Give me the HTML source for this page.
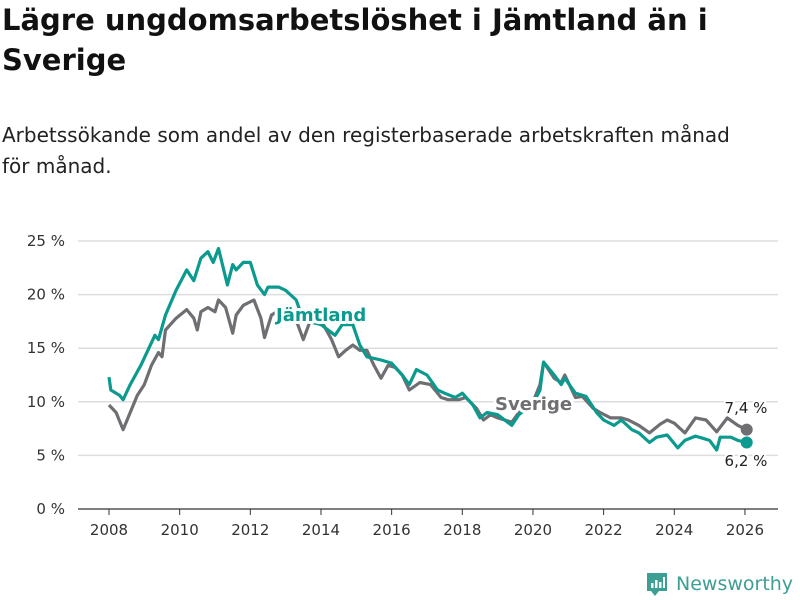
<!DOCTYPE html>
<html><head><meta charset="utf-8"><style>
body{margin:0;background:#fff;font-family:"DejaVu Sans","Liberation Sans",sans-serif;}
#wrap{position:relative;width:800px;height:600px;overflow:hidden}
h1{position:absolute;left:2px;top:0;margin:0;font-size:29px;line-height:40px;font-weight:bold;color:#111;width:790px}
p{position:absolute;left:2px;top:120px;margin:0;font-size:20px;line-height:31px;color:#222;width:760px}
</style></head><body><div id="wrap">
<h1>Lägre ungdomsarbetslöshet i Jämtland än i Sverige</h1>
<p>Arbetssökande som andel av den registerbaserade arbetskraften månad för månad.</p>
<svg id="chart" width="800" height="600" style="position:absolute;left:0;top:0"></svg>
</div>
<script>
const yTicks=[0,5,10,15,20,25];
const xTicks=[2008,2010,2012,2014,2016,2018,2020,2022,2024,2026];
const jamtT=[2008.0,2008.05,2008.3,2008.4,2008.6,2008.9,2009.3,2009.4,2009.6,2009.9,2010.2,2010.4,2010.6,2010.8,2010.95,2011.1,2011.35,2011.5,2011.6,2011.8,2012.0,2012.2,2012.4,2012.5,2012.8,2013.0,2013.3,2013.5,2014.0,2014.4,2014.6,2014.9,2015.1,2015.3,2015.7,2016.0,2016.3,2016.5,2016.7,2017.0,2017.3,2017.5,2017.8,2018.0,2018.3,2018.5,2018.7,2019.0,2019.4,2019.6,2020.0,2020.2,2020.3,2020.6,2020.8,2020.9,2021.2,2021.5,2021.8,2022.0,2022.3,2022.5,2022.8,2023.0,2023.3,2023.5,2023.8,2024.1,2024.3,2024.6,2024.8,2025.0,2025.2,2025.3,2025.6,2025.8,2026.05];
const jamtV=[12.3,11.1,10.6,10.2,11.6,13.4,16.2,15.8,18.1,20.4,22.3,21.3,23.4,24.0,23.0,24.3,20.9,22.8,22.3,23.0,23.0,20.9,20.0,20.7,20.7,20.4,19.5,17.6,17.2,16.2,17.2,17.2,15.3,14.2,13.9,13.6,12.5,11.6,13.0,12.5,11.1,10.8,10.4,10.8,9.7,8.5,9.0,8.8,7.8,8.8,9.8,11.1,13.7,12.5,11.6,12.2,10.8,10.5,9.0,8.3,7.8,8.3,7.4,7.1,6.2,6.7,6.9,5.7,6.4,6.8,6.6,6.4,5.5,6.7,6.7,6.4,6.2];
const sveT=[2008.0,2008.2,2008.4,2008.6,2008.8,2009.0,2009.2,2009.4,2009.5,2009.6,2009.9,2010.2,2010.4,2010.5,2010.6,2010.8,2011.0,2011.1,2011.3,2011.5,2011.6,2011.8,2012.1,2012.3,2012.4,2012.6,2012.8,2013.1,2013.3,2013.5,2013.7,2014.0,2014.3,2014.5,2014.7,2014.9,2015.1,2015.3,2015.5,2015.7,2015.9,2016.1,2016.3,2016.5,2016.8,2017.1,2017.4,2017.6,2017.9,2018.1,2018.4,2018.6,2018.8,2019.0,2019.4,2019.6,2020.0,2020.2,2020.3,2020.6,2020.8,2020.9,2021.2,2021.4,2021.7,2021.9,2022.2,2022.5,2022.7,2023.0,2023.3,2023.6,2023.8,2024.0,2024.3,2024.6,2024.9,2025.2,2025.5,2025.8,2026.05];
const sveV=[9.7,9.0,7.4,9.0,10.6,11.6,13.4,14.6,14.2,16.7,17.8,18.6,17.8,16.7,18.4,18.8,18.4,19.5,18.8,16.4,18.1,19.0,19.5,17.8,16.0,18.1,18.5,18.0,17.6,15.8,17.6,17.6,15.8,14.2,14.8,15.3,14.8,14.8,13.4,12.2,13.4,13.2,12.5,11.1,11.8,11.6,10.4,10.2,10.2,10.4,9.4,8.3,8.8,8.5,8.1,9.0,10.0,11.6,13.7,12.2,11.8,12.5,10.4,10.5,9.4,9.0,8.5,8.5,8.3,7.8,7.1,7.9,8.3,8.0,7.1,8.5,8.3,7.2,8.5,7.8,7.4];
const svg=document.getElementById('chart');const NS='http://www.w3.org/2000/svg';
const X=t=>109+(t-2008)*35.33, Y=v=>509-v*10.72;
function mk(tag,attrs,txt){const e=document.createElementNS(NS,tag);for(const k in attrs)e.setAttribute(k,attrs[k]);if(txt!==undefined)e.textContent=txt;svg.appendChild(e);return e;}
const F='DejaVu Sans, Liberation Sans, sans-serif';
yTicks.forEach(v=>{
 const g=mk('line',{x1:78,x2:778,y1:Y(v),y2:Y(v),stroke:v===0?'#333':'#ddd','stroke-width':v===0?1.2:1.5});
 
 
 const t=mk('text',{x:65,y:Y(v)+5,'text-anchor':'end','font-size':15,fill:'#333','font-family':F},v+' %');
 
 
});
xTicks.forEach(yr=>{
 const l=mk('line',{x1:X(yr),x2:X(yr),y1:509,y2:515,stroke:'#333'});
 
 
 const t=mk('text',{x:X(yr),y:535,'text-anchor':'middle','font-size':15,fill:'#333','font-family':F},yr);
 
 
});
function line(T,V,c,name){const d=T.map((t,i)=>(i?'L':'M')+X(t).toFixed(1)+','+Y(V[i]).toFixed(1)).join('');
 const p=mk('path',{d:d,fill:'none',stroke:c,'stroke-width':3.2,'stroke-linejoin':'round'});
 
 
 const n=T.length-1;
 const c2=mk('circle',{cx:X(T[n]),cy:Y(V[n]),r:6,fill:c});
 
 }
line(sveT,sveV,'#6e6e73','sverige-line');
line(jamtT,jamtV,'#0a9b8e','jamtland-line');
function lab(x,y,txt,c,name,anchor,bold){const t=mk('text',{x:x,y:y,'font-size':bold?18:15,'font-weight':bold?'bold':'normal',fill:c,'font-family':F,'text-anchor':anchor||'start',stroke:'#fff','stroke-width':bold?6:4,'paint-order':'stroke','stroke-linejoin':'round'},txt);
 
 }
lab(276,321,'Jämtland','#0a9b8e','jamtland-label','start',true);
lab(495,410,'Sverige','#6e6e73','sverige-label','start',true);
lab(746,413,'7,4 %','#222','sverige-last-value','middle',false);
lab(746,466,'6,2 %','#222','jamtland-last-value','middle',false);
</script>
<svg style="position:absolute;left:645px;top:571px" width="155" height="28">
<path d="M2,2 h20 v18 h-8 l-4,5 l-4,-5 h-4 z" fill="#3d9e93"/>
<rect x="6" y="12" width="2.5" height="5" fill="#fff"/><rect x="10" y="9" width="2.5" height="8" fill="#fff"/><rect x="14" y="11" width="2.5" height="6" fill="#fff"/><rect x="18" y="6" width="2" height="11" fill="#fff"/>
<text x="31" y="19" font-size="19" fill="#3d9e93" font-family="DejaVu Sans, Liberation Sans, sans-serif">Newsworthy</text>
</svg>
</body></html>
